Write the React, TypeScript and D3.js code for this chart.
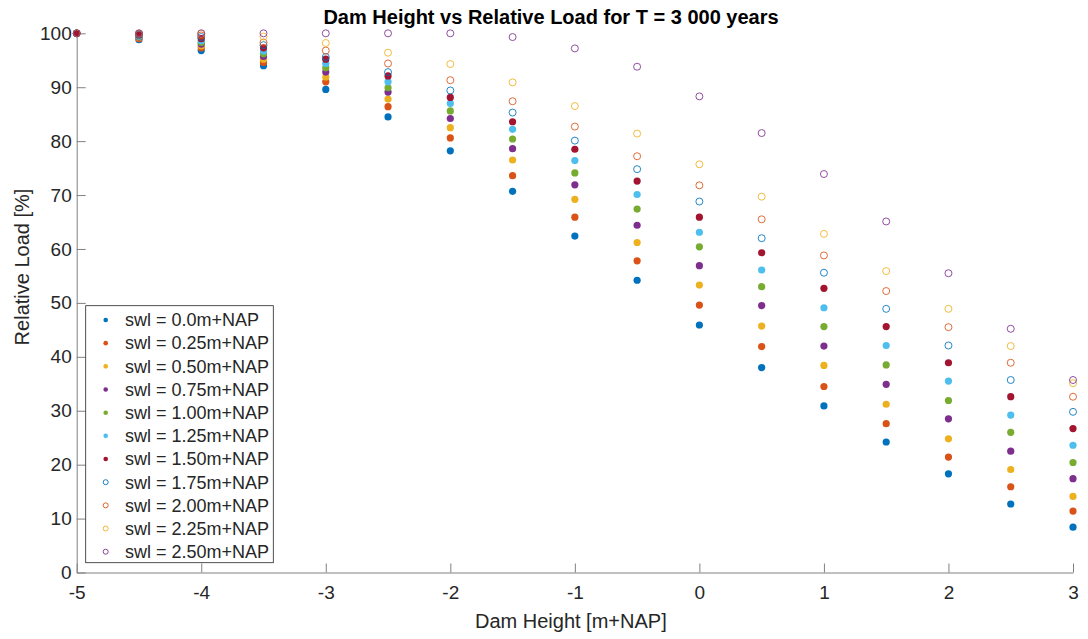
import React, { useRef, useEffect } from "react";
import * as d3 from "d3";

// dam height positions (m+NAP)
const damHeights = [-5, -4.5, -4, -3.5, -3, -2.5, -2, -1.5, -1, -0.5, 0, 0.5, 1, 1.5, 2, 2.5, 3];

// relative load [%] per still water level
const load000 = [100, 98.8, 96.8, 94.0, 89.6, 84.5, 78.2, 70.7, 62.4, 54.2, 45.9, 38.0, 30.9, 24.2, 18.3, 12.7, 8.4];
const load025 = [100, 99.0, 97.3, 94.6, 91.0, 86.4, 80.6, 73.6, 65.9, 57.8, 49.6, 41.9, 34.5, 27.6, 21.4, 15.9, 11.4];
const load050 = [100, 99.2, 97.7, 95.2, 91.9, 87.8, 82.5, 76.5, 69.2, 61.2, 53.3, 45.7, 38.4, 31.2, 24.8, 19.1, 14.1];
const load075 = [100, 99.3, 98.0, 95.7, 92.8, 89.1, 84.2, 78.6, 71.9, 64.4, 56.9, 49.5, 42.0, 34.9, 28.5, 22.5, 17.4];
const load100 = [100, 99.4, 98.3, 96.2, 93.6, 89.9, 85.6, 80.4, 74.1, 67.4, 60.4, 53.0, 45.6, 38.5, 31.9, 26.0, 20.4];
const load125 = [100, 99.5, 98.6, 96.7, 94.4, 91.0, 87.0, 82.2, 76.4, 70.1, 63.1, 56.1, 49.1, 42.1, 35.5, 29.2, 23.6];
const load150 = [100, 99.7, 99.0, 97.3, 95.2, 92.1, 88.1, 83.6, 78.5, 72.6, 65.9, 59.3, 52.7, 45.6, 38.9, 32.6, 26.7];
const load175 = [100, 99.8, 99.3, 97.8, 95.6, 92.8, 89.4, 85.3, 80.1, 74.8, 68.8, 62.0, 55.6, 48.9, 42.1, 35.7, 29.8];
const load200 = [100, 99.9, 99.6, 98.3, 96.8, 94.4, 91.3, 87.4, 82.7, 77.2, 71.8, 65.5, 58.8, 52.2, 45.5, 38.9, 32.6];
const load225 = [100, 100, 99.9, 99.4, 98.2, 96.4, 94.3, 90.9, 86.5, 81.4, 75.7, 69.7, 62.8, 55.9, 48.9, 42.0, 35.1];
const load250 = [100, 100, 100, 100, 100, 100, 100, 99.3, 97.2, 93.8, 88.3, 81.5, 73.9, 65.1, 55.5, 45.2, 35.7];

const seriesLabels = [
  "swl = 0.0m+NAP",
  "swl = 0.25m+NAP",
  "swl = 0.50m+NAP",
  "swl = 0.75m+NAP",
  "swl = 1.00m+NAP",
  "swl = 1.25m+NAP",
  "swl = 1.50m+NAP",
  "swl = 1.75m+NAP",
  "swl = 2.00m+NAP",
  "swl = 2.25m+NAP",
  "swl = 2.50m+NAP",
];
const seriesValues = [load000, load025, load050, load075, load100, load125, load150, load175, load200, load225, load250];
const seriesColors = [
  "#0072BD", "#D95319", "#EDB120", "#7E2F8E", "#77AC30", "#4DBEEE", "#A2142F",
  "#0072BD", "#D95319", "#EDB120", "#7E2F8E",
];
const seriesFilled = [true, true, true, true, true, true, true, false, false, false, false];

const xTicks = [-5, -4, -3, -2, -1, 0, 1, 2, 3];
const yTicks = [0, 10, 20, 30, 40, 50, 60, 70, 80, 90, 100];

const FONT = "'Liberation Sans', Arial, Helvetica, sans-serif";

const App = () => {
  const svgRef = useRef<SVGSVGElement>(null);

  useEffect(() => {
    const svg = d3.select(svgRef.current);
    svg.selectAll("*").remove();

    const width = 1088;
    const height = 639;
    const left = 76.7, right = 1073, top = 33.3, bottom = 572.5;

    const x = d3.scaleLinear().domain([-5, 3]).range([left, right]);
    const y = d3.scaleLinear().domain([0, 100]).range([bottom, top]);

    svg.append("rect").attr("width", width).attr("height", height).attr("fill", "#fff");

    // axes, ticks pointing inward
    const xAxis = d3.axisBottom(x).tickValues(xTicks).tickSizeInner(-9).tickSizeOuter(0).tickPadding(13).tickFormat(d3.format("d"));
    const yAxis = d3.axisLeft(y).tickValues(yTicks).tickSizeInner(-9).tickSizeOuter(0).tickPadding(5).tickFormat(d3.format("d"));

    const gx = svg.append("g").attr("transform", `translate(0,${bottom})`).call(xAxis);
    const gy = svg.append("g").attr("transform", `translate(${left},0)`).call(yAxis);
    [gx, gy].forEach((g) => {
      g.select(".domain").attr("stroke", "#808080").attr("stroke-width", 1);
      g.selectAll(".tick line").attr("stroke", "#808080");
      g.selectAll(".tick text")
        .attr("fill", "#262626")
        .attr("font-family", FONT)
        .attr("font-size", 19)
        .text((d: any) => String(d).replace("−", "-"));
    });

    // points
    seriesValues.forEach((vals, i) => {
      svg
        .append("g")
        .selectAll("circle")
        .data(vals)
        .enter()
        .append("circle")
        .attr("cx", (_d, j) => x(damHeights[j]))
        .attr("cy", (d) => y(d))
        .attr("r", seriesFilled[i] ? 3.6 : 3.5)
        .attr("fill", seriesFilled[i] ? seriesColors[i] : "none")
        .attr("stroke", seriesColors[i])
        .attr("stroke-opacity", 0.85)
        .attr("stroke-width", seriesFilled[i] ? 0 : 1);
    });

    // title and labels
    svg
      .append("text")
      .attr("x", 551)
      .attr("y", 24)
      .attr("text-anchor", "middle")
      .attr("font-family", FONT)
      .attr("font-weight", "bold")
      .attr("font-size", 20)
      .attr("fill", "#000")
      .text("Dam Height vs Relative Load for T = 3 000 years");

    svg
      .append("text")
      .attr("x", (left + right) / 2 - 4)
      .attr("y", 628)
      .attr("text-anchor", "middle")
      .attr("font-family", FONT)
      .attr("font-size", 20)
      .attr("fill", "#262626")
      .text("Dam Height [m+NAP]");

    svg
      .append("text")
      .attr("transform", "translate(29,267) rotate(-90)")
      .attr("text-anchor", "middle")
      .attr("font-family", FONT)
      .attr("font-size", 20)
      .attr("fill", "#262626")
      .text("Relative Load [%]");

    // legend
    const lx = 85.7, ly = 305.7, lw = 187.6, lh = 257;
    const lg = svg.append("g");
    lg.append("rect")
      .attr("x", lx)
      .attr("y", ly)
      .attr("width", lw)
      .attr("height", lh)
      .attr("fill", "#fff")
      .attr("stroke", "#262626")
      .attr("stroke-width", 0.8);

    const items = lg
      .selectAll("g.item")
      .data(seriesLabels)
      .enter()
      .append("g")
      .attr("class", "item")
      .attr("transform", (_d, i) => `translate(${lx},${320 + i * 23.17})`);

    items
      .append("circle")
      .attr("cx", 20)
      .attr("cy", 0)
      .attr("r", (_d, i) => (seriesFilled[i] ? 2.3 : 2.5))
      .attr("fill", (_d, i) => (seriesFilled[i] ? seriesColors[i] : "none"))
      .attr("stroke", (_d, i) => seriesColors[i])
      .attr("stroke-width", (_d, i) => (seriesFilled[i] ? 0 : 0.9));

    items
      .append("text")
      .attr("x", 39.3)
      .attr("y", 0)
      .attr("dy", "0.35em")
      .attr("font-family", FONT)
      .attr("font-size", 18)
      .attr("fill", "#262626")
      .text((d) => d);
  }, []);

  return (
    <svg
      ref={svgRef}
      width={1088}
      height={639}
      style={{ position: "absolute", left: 0, top: 0, display: "block" }}
    />
  );
};

export default App;
